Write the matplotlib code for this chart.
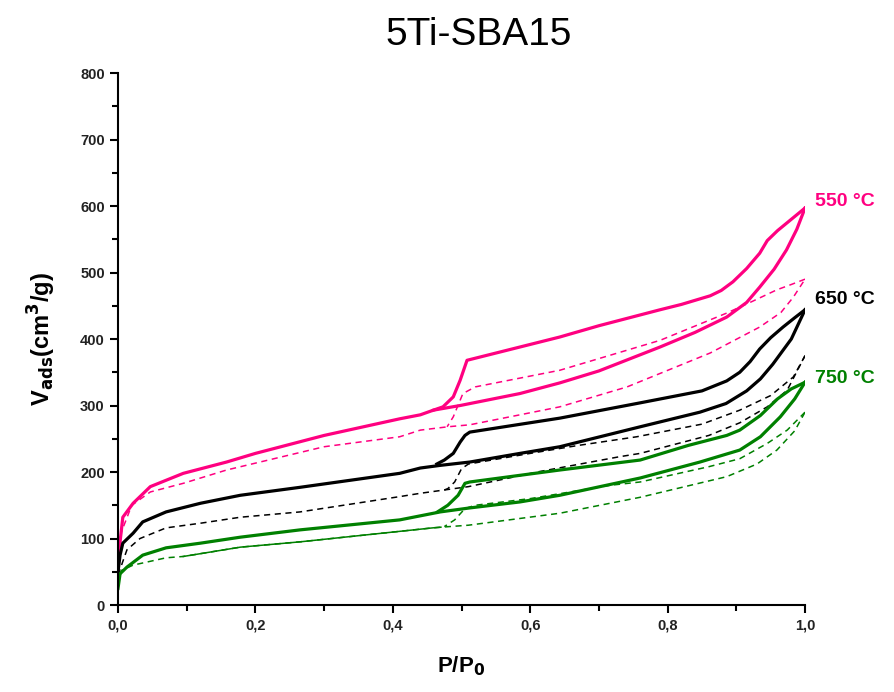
import matplotlib
matplotlib.use("Agg")
import matplotlib.pyplot as plt
from matplotlib.ticker import MultipleLocator, FuncFormatter

plt.rcParams['font.family'] = ['Liberation Sans', 'DejaVu Sans']

PINK = '#ff0080'
GREEN = '#008000'
BLACK = '#000000'

# 550 C, solid loop
p550_ads_x = [0.0, 0.003, 0.007, 0.022, 0.047, 0.095, 0.158, 0.2, 0.3, 0.41, 0.44, 0.459, 0.498, 0.585, 0.643, 0.7, 0.789, 0.84, 0.886, 0.915, 0.934, 0.955, 0.973, 0.988, 1.0]
p550_ads_y = [57, 95, 132, 153, 178, 198, 215, 228, 255, 280, 286, 293, 300, 318, 334, 352, 388, 410, 433, 455, 478, 505, 534, 565, 597]
p550_des_x = [1.0, 0.96, 0.945, 0.934, 0.915, 0.895, 0.878, 0.862, 0.82, 0.789, 0.7, 0.643, 0.508, 0.498, 0.488, 0.473, 0.459]
p550_des_y = [597, 563, 548, 529, 506, 486, 473, 465, 452, 444, 420, 403, 368, 338, 313, 298, 293]

# 550 C, dashed loop
p550b_ads_x = [0.0, 0.005, 0.02, 0.047, 0.095, 0.158, 0.3, 0.41, 0.44, 0.48, 0.512, 0.585, 0.643, 0.741, 0.862, 0.934, 0.965, 0.983, 1.0]
p550b_ads_y = [55, 110, 150, 170, 183, 203, 238, 253, 263, 268, 271, 286, 298, 328, 379, 418, 440, 463, 490]
p550b_des_x = [1.0, 0.98, 0.959, 0.92, 0.886, 0.789, 0.643, 0.52, 0.502, 0.488, 0.479]
p550b_des_y = [490, 482, 474, 455, 439, 398, 353, 328, 318, 283, 268]

# 650 C, solid loop
p650_ads_x = [0.0, 0.003, 0.007, 0.022, 0.036, 0.07, 0.12, 0.178, 0.265, 0.41, 0.44, 0.469, 0.512, 0.585, 0.643, 0.76, 0.847, 0.885, 0.915, 0.935, 0.953, 0.98, 1.0]
p650_ads_y = [50, 75, 93, 108, 125, 140, 153, 165, 177, 198, 206, 210, 215, 228, 238, 268, 290, 303, 322, 340, 362, 400, 444]
p650_des_x = [1.0, 0.985, 0.968, 0.95, 0.934, 0.92, 0.905, 0.886, 0.85, 0.76, 0.643, 0.512, 0.505, 0.498, 0.488, 0.475, 0.464]
p650_des_y = [444, 432, 418, 402, 385, 366, 350, 337, 322, 304, 281, 260, 255, 245, 228, 218, 212]

# 650 C, dashed loop
p650b_ads_x = [0.0, 0.013, 0.032, 0.07, 0.12, 0.178, 0.265, 0.41, 0.44, 0.475, 0.51, 0.61, 0.73, 0.76, 0.86, 0.905, 0.945, 0.974, 1.0]
p650b_ads_y = [45, 83, 100, 116, 123, 132, 140, 163, 168, 173, 178, 200, 223, 228, 255, 274, 298, 323, 375]
p650b_des_x = [1.0, 0.983, 0.95, 0.905, 0.85, 0.755, 0.67, 0.6, 0.51, 0.5, 0.49, 0.48, 0.475]
p650b_des_y = [375, 343, 315, 293, 272, 253, 240, 228, 212, 205, 185, 175, 173]

# 750 C, solid loop
p750_ads_x = [0.0, 0.003, 0.013, 0.036, 0.07, 0.12, 0.178, 0.265, 0.41, 0.469, 0.512, 0.585, 0.643, 0.76, 0.847, 0.905, 0.935, 0.964, 0.985, 1.0]
p750_ads_y = [25, 47, 57, 75, 86, 93, 102, 113, 128, 140, 146, 155, 165, 191, 215, 233, 253, 283, 310, 335]
p750_des_x = [1.0, 0.98, 0.96, 0.935, 0.905, 0.886, 0.83, 0.76, 0.643, 0.512, 0.505, 0.495, 0.48, 0.465]
p750_des_y = [335, 325, 310, 285, 263, 255, 240, 218, 203, 185, 183, 165, 150, 140]

# 750 C, second loop (thin)
p750b_ads_x = [0.0, 0.005, 0.022, 0.07, 0.095, 0.178, 0.265, 0.458, 0.47, 0.51, 0.643, 0.76, 0.886, 0.93, 0.959, 0.985, 1.0]
p750b_ads_y = [30, 52, 60, 71, 73, 87, 95, 116, 117, 120, 138, 162, 193, 212, 233, 262, 290]
p750b_des_x = [1.0, 0.974, 0.945, 0.905, 0.86, 0.76, 0.716, 0.6, 0.52, 0.505, 0.49, 0.475]
p750b_des_y = [290, 263, 243, 220, 208, 185, 180, 160, 150, 145, 128, 118]

labels = ['550 °C', '650 °C', '750 °C']
label_y = [607, 459, 341]
colors = [PINK, BLACK, GREEN]

fig = plt.figure(figsize=(8.94, 6.92), dpi=100)
ax = fig.add_axes([0.132, 0.1257, 0.7685, 0.7688])

# dashed loops first
for xs, ys, c in [(p550b_ads_x, p550b_ads_y, PINK), (p550b_des_x, p550b_des_y, PINK),
                  (p650b_ads_x, p650b_ads_y, BLACK), (p650b_des_x, p650b_des_y, BLACK),
                  (p750b_ads_x, p750b_ads_y, GREEN), (p750b_des_x, p750b_des_y, GREEN)]:
    ax.plot(xs, ys, color=c, lw=1.1, ls=(0, (4, 3)))
# thin solid part of the 750 second loop
ax.plot(p750b_ads_x[4:9], p750b_ads_y[4:9], color=GREEN, lw=1.1)

for xs, ys, c in [(p550_ads_x, p550_ads_y, PINK), (p550_des_x, p550_des_y, PINK),
                  (p650_ads_x, p650_ads_y, BLACK), (p650_des_x, p650_des_y, BLACK),
                  (p750_ads_x, p750_ads_y, GREEN), (p750_des_x, p750_des_y, GREEN)]:
    ax.plot(xs, ys, color=c, lw=2.3, solid_joinstyle='round')

for lab, ly, c in zip(labels, label_y, colors):
    ax.text(1.015, ly, lab, color=c, fontsize=14, fontweight='bold', va='center', ha='left',
            clip_on=False)

ax.set_xlim(0, 1.0)
ax.set_ylim(0, 800)
ax.xaxis.set_major_locator(MultipleLocator(0.2))
ax.xaxis.set_minor_locator(MultipleLocator(0.1))
ax.yaxis.set_major_locator(MultipleLocator(100))
ax.yaxis.set_minor_locator(MultipleLocator(50))
ax.xaxis.set_major_formatter(FuncFormatter(lambda v, p: f"{v:.1f}".replace('.', ',')))

for s in ['top', 'right']:
    ax.spines[s].set_visible(False)
for s in ['left', 'bottom']:
    ax.spines[s].set_linewidth(1.5)
ax.tick_params(which='major', direction='out', length=6, width=1.5, labelsize=10.5)
ax.tick_params(which='minor', direction='out', length=4, width=1.5)
for t in ax.get_xticklabels() + ax.get_yticklabels():
    t.set_fontweight('bold')
    t.set_color('#222222')

ax.set_title('5Ti-SBA15', fontsize=28, pad=20, x=0.525)
ax.set_xlabel('P/P$_\\mathbf{0}$', fontsize=16, fontweight='bold', labelpad=16)
ax.set_ylabel('V$_\\mathbf{ads}$(cm$^\\mathbf{3}$/g)', fontsize=17, fontweight='bold', labelpad=16)

fig.savefig('out.png', dpi=100)
